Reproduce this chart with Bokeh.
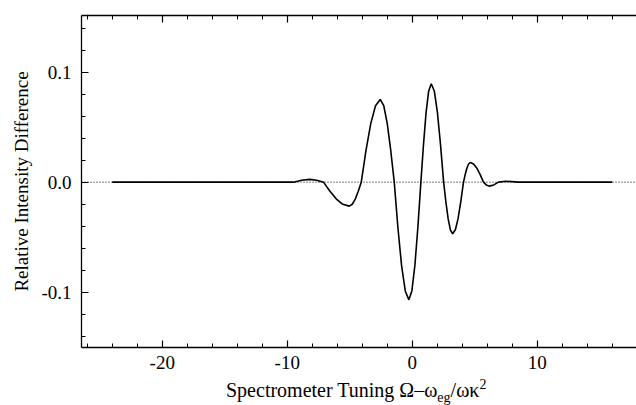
from bokeh.plotting import figure
from bokeh.models import Range1d, FixedTicker, LinearAxis, Span, Div
from bokeh.layouts import column
from bokeh.embed import file_html
from bokeh.resources import INLINE

# ---- data ----
tuning = [-24.0, -16.0, -12.0, -10.0, -9.5, -8.85, -8.2, -7.65, -7.1,
          -6.585, -6.07, -5.555, -5.04, -4.8, -4.56, -4.32, -4.08,
          -3.70, -3.32, -2.94, -2.56, -2.28, -2.00, -1.72, -1.44,
          -1.15, -0.855, -0.56, -0.27, -0.03, 0.21, 0.45, 0.69,
          0.90, 1.105, 1.31, 1.52, 1.77, 2.015, 2.26, 2.51,
          2.69, 2.87, 3.05, 3.23, 3.45, 3.665, 3.88, 4.10,
          4.235, 4.37, 4.505, 4.64, 4.905, 5.17, 5.435, 5.70,
          5.925, 6.15, 6.525, 6.90, 7.5, 8.5, 10.0, 12.0, 16.0]
intensity_diff = [0.0, 0.0, 0.0, 0.0, 0.0, 0.0018, 0.0025, 0.0018, 0.0,
                  -0.0083, -0.0154, -0.0201, -0.0218, -0.0201, -0.0154, -0.0083, 0.0,
                  0.0288, 0.0532, 0.0695, 0.0752, 0.0695, 0.0532, 0.0288, 0.0,
                  -0.041, -0.0757, -0.0989, -0.107, -0.0989, -0.0757, -0.041, 0.0,
                  0.0342, 0.0632, 0.0826, 0.0894, 0.0826, 0.0632, 0.0342, 0.0,
                  -0.018, -0.0332, -0.0433, -0.0469, -0.0433, -0.0332, -0.018, 0.0,
                  0.0069, 0.0127, 0.0165, 0.0179, 0.0165, 0.0127, 0.0069, 0.0,
                  -0.0025, -0.0036, -0.0025, 0.0, 0.0008, 0.0, 0.0, 0.0, 0.0]
baseline_level = 0.0

x_major_ticks = [-20, -10, 0, 10]
x_minor_ticks = [-26, -24, -22, -20, -18, -16, -14, -12, -10, -8, -6, -4, -2,
                 0, 2, 4, 6, 8, 10, 12, 14, 16]
y_major_ticks = [-0.1, 0.0, 0.1]
y_tick_labels = ["-0.1", "0.0", "0.1"]
y_minor_ticks = [-0.14, -0.12, -0.1, -0.08, -0.06, -0.04, -0.02, 0.0,
                 0.02, 0.04, 0.06, 0.08, 0.1, 0.12, 0.14]

y_title = "Relative Intensity Difference"
x_title_main = "Spectrometer Tuning \u03a9\u2013\u03c9"
x_title_sub = "eg"
x_title_mid = "/\u03c9\u03ba"
x_title_sup = "2"

FONT = "Liberation Serif"

p = figure(width=636, height=380, output_backend="svg", toolbar_location=None,
           x_range=Range1d(-26.46, 17.94), y_range=Range1d(-0.1503, 0.1515),
           x_axis_location=None, y_axis_location=None,
           min_border_left=81, min_border_right=0, min_border_top=15,
           min_border_bottom=33)
p.outline_line_color = None
p.grid.visible = False
p.background_fill_color = "white"
p.border_fill_color = "white"


def make_axis(major, minor, show_labels=True):
    ax = LinearAxis(ticker=FixedTicker(ticks=major, minor_ticks=minor))
    ax.axis_line_color = "black"
    ax.axis_line_width = 1.3
    ax.major_tick_line_color = "black"
    ax.minor_tick_line_color = "black"
    ax.major_tick_line_width = 1.2
    ax.minor_tick_line_width = 1.0
    ax.major_tick_in = 7
    ax.major_tick_out = 0
    ax.minor_tick_in = 4
    ax.minor_tick_out = 0
    ax.major_label_text_font = FONT
    if show_labels:
        ax.major_label_text_color = "black"
        ax.major_label_text_font_size = "19px"
    else:
        ax.major_label_text_color = None
        ax.major_label_text_font_size = "1px"
        ax.major_label_standoff = 0
    return ax


bottom = make_axis(x_major_ticks, x_minor_ticks)
bottom.major_label_standoff = 8
bottom.major_label_overrides = {t: str(t) for t in x_major_ticks}
p.add_layout(bottom, "below")

top = make_axis(x_major_ticks, x_minor_ticks, show_labels=False)
p.add_layout(top, "above")

left = make_axis(y_major_ticks, y_minor_ticks)
left.major_label_standoff = 10
left.major_label_overrides = dict(zip(y_major_ticks, y_tick_labels))
left.axis_label = y_title
left.axis_label_text_font = FONT
left.axis_label_text_font_size = "19px"
left.axis_label_text_font_style = "normal"
left.axis_label_text_color = "black"
left.axis_label_standoff = 6
p.add_layout(left, "left")

p.add_layout(Span(location=baseline_level, dimension="width", line_color="black",
                  line_width=1, line_dash="1 2", level="underlay"))

p.line(tuning, intensity_diff, line_color="black", line_width=1.6)

title_html = (
    '<div style="position:absolute;left:226px;top:0px;white-space:nowrap;'
    "font-family:'Liberation Serif',serif;font-size:20px;line-height:20px;color:#000;\">"
    f'{x_title_main}<span style="font-size:14px;position:relative;top:5px;">{x_title_sub}</span>'
    f'{x_title_mid}<span style="font-size:14px;position:relative;top:-8px;">{x_title_sup}</span>'
    '</div>'
)
title_div = Div(text=title_html, width=636, height=25, margin=(0, 0, 0, 0))

layout = column(p, title_div, spacing=0)

open("out.html", "w").write(file_html(layout, INLINE))
